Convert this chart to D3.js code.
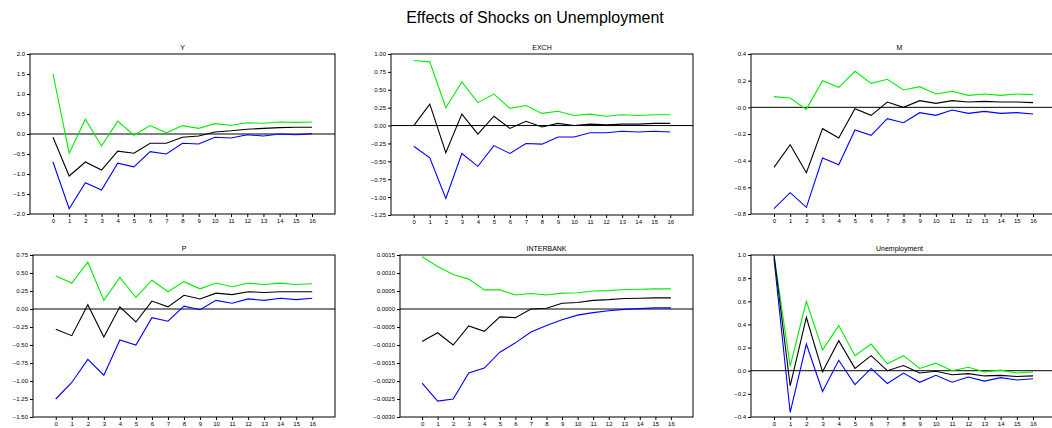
<!DOCTYPE html>
<html>
<head>
<meta charset="utf-8">
<script src="https://cdn.jsdelivr.net/npm/d3@7"></script>
<style>
  body { margin: 0; background: #fff; }
  text { font-family: "Liberation Sans", Arial, sans-serif; }
</style>
</head>
<body>
<div id="chart"></div>
<script>
// Horizons 0..16
var horizons = d3.range(0, 17);

// Y
var yMid = [-0.08, -1.05, -0.7, -0.9, -0.43, -0.48, -0.23, -0.23, -0.08, -0.05, 0.05, 0.08, 0.12, 0.14, 0.16, 0.17, 0.17];
var yUp  = [1.5, -0.48, 0.37, -0.3, 0.32, -0.03, 0.21, 0.03, 0.21, 0.14, 0.26, 0.22, 0.28, 0.27, 0.3, 0.29, 0.3];
var yLo  = [-0.7, -1.87, -1.22, -1.4, -0.73, -0.82, -0.44, -0.5, -0.23, -0.25, -0.08, -0.1, -0.02, -0.05, 0.0, -0.02, 0.01];
// EXCH
var exMid = [0, 0.3, -0.38, 0.16, -0.12, 0.13, -0.04, 0.06, -0.02, 0.03, 0.0, 0.02, 0.01, 0.02, 0.02, 0.03, 0.03];
var exUp  = [0.91, 0.89, 0.25, 0.61, 0.32, 0.44, 0.24, 0.28, 0.17, 0.2, 0.14, 0.16, 0.13, 0.15, 0.14, 0.15, 0.15];
var exLo  = [-0.29, -0.45, -1.02, -0.39, -0.57, -0.28, -0.39, -0.25, -0.26, -0.16, -0.16, -0.1, -0.1, -0.08, -0.09, -0.08, -0.09];
// M
var mMid = [-0.45, -0.28, -0.49, -0.16, -0.23, -0.01, -0.06, 0.04, 0.0, 0.05, 0.03, 0.05, 0.04, 0.045, 0.04, 0.04, 0.035];
var mUp  = [0.08, 0.07, -0.015, 0.2, 0.15, 0.27, 0.18, 0.21, 0.13, 0.155, 0.1, 0.12, 0.09, 0.1, 0.09, 0.1, 0.095];
var mLo  = [-0.76, -0.64, -0.75, -0.38, -0.43, -0.17, -0.21, -0.085, -0.115, -0.04, -0.06, -0.02, -0.045, -0.03, -0.045, -0.04, -0.05];
// P
var pMid = [-0.28, -0.37, 0.06, -0.39, 0.03, -0.18, 0.11, 0.03, 0.19, 0.14, 0.22, 0.2, 0.24, 0.23, 0.24, 0.24, 0.24];
var pUp  = [0.46, 0.36, 0.65, 0.12, 0.44, 0.16, 0.4, 0.24, 0.38, 0.28, 0.36, 0.31, 0.36, 0.34, 0.36, 0.34, 0.35];
var pLo  = [-1.25, -1.02, -0.7, -0.92, -0.43, -0.5, -0.12, -0.17, 0.04, -0.01, 0.12, 0.08, 0.14, 0.12, 0.15, 0.13, 0.15];
// INTERBANK
var ibMid = [-0.0009, -0.00066, -0.001, -0.00047, -0.00062, -0.00022, -0.00024, 0.0, 0.00002, 0.00016, 0.00018, 0.00024, 0.00026, 0.00029, 0.0003, 0.00031, 0.00031];
var ibUp  = [0.00145, 0.00118, 0.00096, 0.00083, 0.00053, 0.00053, 0.00039, 0.00043, 0.00039, 0.00044, 0.00045, 0.0005, 0.00051, 0.00054, 0.00055, 0.00056, 0.00056];
var ibLo  = [-0.00206, -0.00256, -0.0025, -0.00178, -0.00164, -0.0012, -0.00094, -0.00064, -0.00046, -0.0003, -0.00017, -0.0001, -0.00005, -0.00001, 0.00001, 0.00003, 0.00003];
// Unemployment
var uMid = [1.0, -0.13, 0.46, -0.01, 0.26, 0.02, 0.13, 0.0, 0.045, -0.02, -0.005, -0.035, -0.025, -0.045, -0.04, -0.05, -0.045];
var uUp  = [1.0, 0.04, 0.6, 0.18, 0.39, 0.13, 0.23, 0.06, 0.13, 0.02, 0.065, 0.0, 0.03, -0.01, 0.005, -0.02, -0.01];
var uLo  = [0.97, -0.36, 0.23, -0.18, 0.09, -0.12, 0.02, -0.11, -0.02, -0.1, -0.04, -0.1, -0.055, -0.09, -0.06, -0.08, -0.07];

// Y-axis ticks per panel
var yTicks  = [-2, -1.5, -1, -0.5, 0, 0.5, 1, 1.5, 2];
var exTicks = [-1.25, -1, -0.75, -0.5, -0.25, 0, 0.25, 0.5, 0.75, 1];
var mTicks  = [-0.8, -0.6, -0.4, -0.2, 0, 0.2, 0.4];
var pTicks  = [-1.5, -1.25, -1, -0.75, -0.5, -0.25, 0, 0.25, 0.5, 0.75];
var ibTicks = [-0.003, -0.0025, -0.002, -0.0015, -0.001, -0.0005, 0, 0.0005, 0.001, 0.0015];
var uTicks  = [-0.4, -0.2, 0, 0.2, 0.4, 0.6, 0.8, 1.0];

var panels = [
  {name: "Y", mid: yMid, up: yUp, lo: yLo, ticks: yTicks, fmt: d3.format(".1f"), box: [30, 54, 335, 214]},
  {name: "EXCH", mid: exMid, up: exUp, lo: exLo, ticks: exTicks, fmt: d3.format(".2f"), box: [391, 54, 693, 215]},
  {name: "M", mid: mMid, up: mUp, lo: mLo, ticks: mTicks, fmt: function(d) { return d === 0 ? "-0.0" : d3.format(".1f")(d); }, box: [751, 54, 1056, 214]},
  {name: "P", mid: pMid, up: pUp, lo: pLo, ticks: pTicks, fmt: d3.format(".2f"), box: [33, 255, 335, 417]},
  {name: "INTERBANK", mid: ibMid, up: ibUp, lo: ibLo, ticks: ibTicks, fmt: d3.format(".4f"), box: [400, 255, 693, 417]},
  {name: "Unemployment", mid: uMid, up: uUp, lo: uLo, ticks: uTicks, fmt: d3.format(".1f"), box: [751, 255, 1056, 417]}
];

var svgWidth = 1052, svgHeight = 428;
var svg = d3.select("#chart").append("svg")
  .attr("width", svgWidth)
  .attr("height", svgHeight);

svg.append("text")
  .attr("x", 535).attr("y", 23)
  .attr("text-anchor", "middle")
  .style("font-size", "16px")
  .text("Effects of Shocks on Unemployment");

panels.forEach(function(p) {
  var x0 = p.box[0], y0 = p.box[1], x1 = p.box[2], y1 = p.box[3];
  var xScale = d3.scaleLinear().domain([-1.42, 17.42]).range([x0, x1]);
  var yScale = d3.scaleLinear().domain(d3.extent(p.ticks)).range([y1, y0]);
  var g = svg.append("g");

  g.append("rect")
    .attr("x", x0).attr("y", y0)
    .attr("width", x1 - x0).attr("height", y1 - y0)
    .attr("fill", "none").attr("stroke", "#000").attr("stroke-width", 1);

  g.append("text")
    .attr("x", (x0 + Math.min(x1, 1052)) / 2 + (x1 > 1052 ? -2 : 0)).attr("y", y0 - 4)
    .attr("text-anchor", "middle")
    .style("font-size", "7px")
    .text(p.name);

  var leftAxis = d3.axisLeft(yScale).tickValues(p.ticks).tickFormat(p.fmt).tickSize(3).tickPadding(2);
  g.append("g").attr("transform", `translate(${x0},0)`).call(leftAxis)
    .call(function(a) { a.select(".domain").remove(); a.selectAll("text").style("font-size", "6px"); });

  var bottomAxis = d3.axisBottom(xScale).tickValues(horizons).tickFormat(d3.format("d")).tickSize(3).tickPadding(2);
  g.append("g").attr("transform", `translate(0,${y1})`).call(bottomAxis)
    .call(function(a) { a.select(".domain").remove(); a.selectAll("text").style("font-size", "6px"); });

  // zero line
  g.append("line")
    .attr("x1", x0).attr("x2", x1)
    .attr("y1", yScale(0)).attr("y2", yScale(0))
    .attr("stroke", "#000").attr("stroke-width", 1);

  var line = d3.line().x(function(d, i) { return xScale(horizons[i]); }).y(function(d) { return yScale(d); });
  [[p.up, "#00ee00"], [p.lo, "#0000ff"], [p.mid, "#000000"]].forEach(function(s) {
    g.append("path").datum(s[0])
      .attr("d", line)
      .attr("fill", "none")
      .attr("stroke", s[1])
      .attr("stroke-width", 1.1);
  });
});
</script>
</body>
</html>
